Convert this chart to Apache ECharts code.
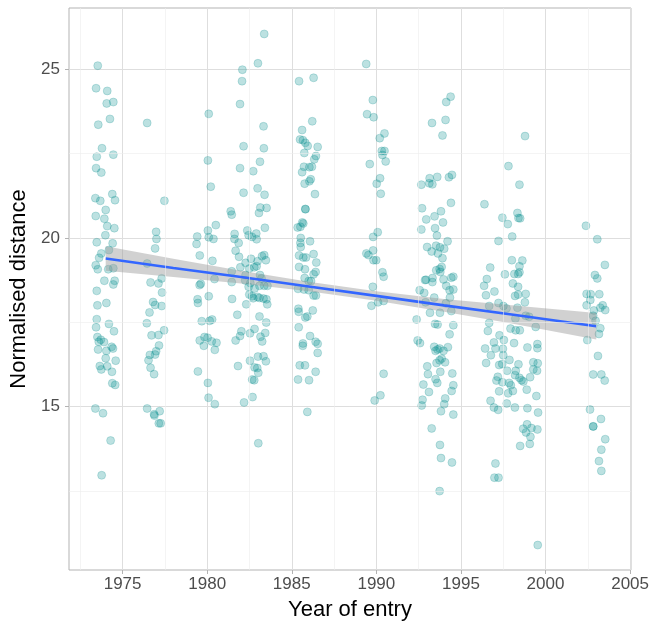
<!DOCTYPE html>
<html>
<head>
<meta charset="utf-8">
<script src="https://cdn.jsdelivr.net/npm/echarts@6/dist/echarts.min.js"></script>
<style>
  html, body { margin: 0; padding: 0; background: #fff; }
  #chart { width: 652px; height: 627px; }
</style>
</head>
<body>
<div id="chart"></div>
<script>
'use strict';

// jittered points, [year of entry, normalised distance], read per intake cohort
var cohort1974 = [
  [1973.53,25.11],[1973.43,24.44],[1974.09,24.36],[1974.06,23.99],[1974.45,24.03],[1974.25,23.53],
  [1973.56,23.36],[1973.78,22.66],[1973.47,22.41],[1974.45,22.47],[1973.43,22.07],[1973.74,21.94],
  [1974.39,21.30],[1973.39,21.18],[1973.68,21.10],[1974.55,21.12],[1974.00,20.83],[1973.41,20.65],
  [1973.92,20.57],[1974.09,20.35],[1974.51,20.29],[1973.98,20.08],[1973.47,19.87],[1974.41,19.84],
  [1974.19,19.64],[1973.74,19.54],[1973.61,19.41],[1973.41,19.19],[1973.53,19.07],[1974.15,19.07],
  [1974.45,19.10],[1973.92,18.73],[1974.53,18.73],[1974.45,18.62],[1973.47,18.43],[1973.51,18.00],
  [1974.04,18.07],[1973.47,17.59],[1974.19,17.45],[1973.43,17.35],[1974.49,17.23],[1973.51,17.06],
  [1973.71,16.98],[1973.59,16.92],[1973.90,16.91],[1974.35,16.77],[1974.43,16.72],[1973.55,16.69],
  [1974.04,16.65],[1974.00,16.43],[1974.59,16.36],[1973.65,16.20],[1974.09,16.19],[1973.74,16.10],
  [1974.37,16.03],[1974.39,15.69],[1974.56,15.64],[1973.39,14.94],[1973.84,14.80],[1974.29,13.99],
  [1973.76,12.96]
];
var cohort1977 = [
  [1976.45,23.41],[1977.47,21.10],[1976.98,20.18],[1977.00,19.97],[1976.92,19.69],[1976.45,19.24],
  [1976.65,18.68],[1977.12,18.65],[1977.31,18.80],[1977.33,18.38],[1976.80,18.10],[1976.92,18.01],
  [1977.31,17.98],[1976.59,17.79],[1976.43,17.47],[1976.71,17.11],[1977.12,17.12],[1977.45,17.26],
  [1977.15,16.81],[1976.98,16.64],[1976.92,16.54],[1976.61,16.53],[1976.53,16.37],[1976.65,16.15],
  [1976.86,15.96],[1976.45,14.94],[1976.86,14.77],[1977.19,14.86],[1976.88,14.73],[1977.14,14.50],
  [1977.25,14.50]
];
var cohort1980 = [
  [1980.09,23.68],[1980.04,22.30],[1980.21,21.52],[1980.51,20.38],[1980.04,20.22],[1979.41,20.04],
  [1980.09,20.02],[1980.37,19.97],[1979.37,19.82],[1979.56,19.48],[1980.31,19.32],[1980.43,18.78],
  [1979.55,18.60],[1979.62,18.64],[1980.09,18.27],[1979.43,18.18],[1979.45,18.07],[1979.68,17.53],
  [1980.15,17.54],[1980.29,17.58],[1979.84,17.06],[1980.02,17.04],[1979.56,16.96],[1980.27,16.93],
  [1980.55,16.89],[1979.80,16.80],[1980.45,16.68],[1979.45,16.04],[1980.04,15.70],[1980.08,15.26],
  [1980.45,15.07]
];
var cohort1983 = [
  [1983.37,26.05],[1983.00,25.18],[1982.08,24.99],[1982.06,24.65],[1981.94,23.97],[1983.33,23.31],
  [1982.15,22.72],[1983.35,22.66],[1983.12,22.26],[1981.94,22.07],[1982.72,21.98],[1982.15,21.34],
  [1982.98,21.47],[1983.39,21.28],[1981.39,20.79],[1981.45,20.69],[1983.14,20.90],[1983.51,20.89],
  [1983.06,20.74],[1983.41,20.30],[1981.62,20.12],[1982.37,20.22],[1982.90,20.13],[1981.61,19.97],
  [1982.45,20.08],[1982.65,20.03],[1982.92,19.96],[1981.86,19.85],[1981.68,19.62],[1981.88,19.44],
  [1983.24,19.46],[1983.37,19.49],[1983.47,19.34],[1982.98,19.31],[1982.59,19.38],[1982.27,19.26],
  [1982.49,19.09],[1981.96,19.13],[1982.78,19.13],[1982.92,19.16],[1981.45,19.01],[1982.27,18.90],
  [1983.12,18.90],[1981.45,18.69],[1982.25,18.74],[1982.55,18.66],[1983.21,18.80],[1982.45,18.55],
  [1982.80,18.50],[1983.09,18.58],[1983.37,18.58],[1983.56,18.58],[1982.49,18.32],[1982.65,18.27],
  [1983.09,18.22],[1983.50,18.18],[1981.47,18.19],[1982.31,18.03],[1982.72,18.21],[1982.98,18.25],
  [1983.33,18.20],[1983.55,18.03],[1981.78,17.72],[1983.09,17.67],[1983.49,17.49],[1982.02,17.23],
  [1982.80,17.30],[1982.53,17.17],[1983.43,17.18],[1981.94,17.09],[1981.68,16.96],[1983.15,17.07],
  [1983.25,16.93],[1983.00,16.48],[1983.33,16.49],[1983.47,16.34],[1982.53,16.36],[1981.82,16.20],
  [1982.80,16.16],[1982.96,16.14],[1983.02,16.00],[1982.66,15.80],[1982.78,15.78],[1982.18,15.12],
  [1982.68,15.28],[1983.02,13.91]
];
var cohort1986 = [
  [1985.43,24.65],[1986.29,24.75],[1986.21,23.46],[1985.61,23.20],[1985.49,22.92],[1985.66,22.90],
  [1985.80,22.82],[1985.94,22.73],[1986.53,22.70],[1985.74,22.52],[1986.43,22.43],[1986.33,22.33],
  [1985.72,22.11],[1986.04,22.10],[1986.19,22.11],[1985.61,21.95],[1986.12,21.74],[1986.04,21.68],
  [1985.76,21.61],[1986.37,21.30],[1985.80,20.86],[1985.81,20.85],[1985.62,20.46],[1985.68,20.43],
  [1985.51,20.33],[1985.35,20.31],[1985.53,20.00],[1985.51,19.85],[1986.08,19.90],[1985.53,19.73],
  [1985.43,19.48],[1985.68,19.42],[1985.84,19.42],[1986.29,19.52],[1985.43,19.14],[1986.45,19.27],
  [1985.78,19.07],[1986.41,18.99],[1986.29,18.92],[1985.76,18.81],[1986.00,18.72],[1986.14,18.72],
  [1985.37,18.49],[1985.72,18.47],[1986.00,18.45],[1986.29,18.29],[1986.43,18.29],[1985.39,17.90],
  [1985.41,17.81],[1986.24,17.85],[1985.92,17.67],[1985.80,17.64],[1985.41,17.35],[1986.08,17.09],
  [1985.66,16.87],[1985.65,16.80],[1986.41,16.92],[1986.53,16.86],[1986.53,16.59],[1985.47,16.22],
  [1985.78,16.22],[1986.41,16.03],[1985.37,15.80],[1986.02,15.78],[1985.92,14.84]
];
var cohort1990 = [
  [1989.40,25.16],[1989.79,24.09],[1989.45,23.67],[1989.84,23.58],[1990.20,22.96],[1990.48,23.10],
  [1990.32,22.58],[1990.48,22.58],[1990.36,22.46],[1990.55,22.27],[1989.61,22.19],[1990.22,21.77],
  [1990.02,21.61],[1990.26,21.31],[1990.08,20.17],[1989.81,20.03],[1989.41,19.54],[1989.53,19.49],
  [1989.81,19.63],[1989.83,19.34],[1989.99,19.34],[1990.36,18.98],[1990.43,18.85],[1989.79,18.55],
  [1989.71,17.99],[1990.10,18.09],[1990.43,18.13],[1990.43,15.97],[1990.24,15.33],[1989.90,15.18]
];
var cohort1994 = [
  [1994.39,24.19],[1994.13,24.03],[1993.29,23.41],[1994.09,23.50],[1993.91,23.04],[1993.15,21.77],
  [1993.60,21.81],[1994.47,21.87],[1994.29,21.80],[1992.66,21.58],[1993.13,21.62],[1993.31,21.59],
  [1994.41,21.04],[1992.70,20.88],[1993.82,20.79],[1993.44,20.64],[1992.95,20.55],[1993.94,20.46],
  [1993.47,20.29],[1992.66,20.25],[1993.58,20.07],[1994.21,19.90],[1993.00,19.73],[1993.53,19.77],
  [1993.76,19.72],[1994.01,19.68],[1993.27,19.60],[1993.64,19.54],[1993.91,19.40],[1993.54,19.04],
  [1993.74,19.08],[1993.86,19.14],[1993.78,18.99],[1992.94,18.76],[1992.88,18.75],[1993.32,18.81],
  [1993.31,18.69],[1993.97,18.77],[1994.43,18.82],[1994.55,18.85],[1994.13,18.58],[1992.56,18.45],
  [1992.83,18.37],[1994.33,18.45],[1994.55,18.47],[1993.42,18.23],[1994.35,18.23],[1992.91,18.09],
  [1993.17,17.78],[1993.76,17.78],[1994.43,17.83],[1994.11,18.06],[1992.38,17.58],[1993.47,17.45],
  [1993.62,17.43],[1994.55,17.41],[1994.33,17.14],[1992.44,16.96],[1992.58,16.88],[1993.42,16.77],
  [1993.50,16.65],[1993.62,16.69],[1993.74,16.72],[1993.97,16.65],[1994.23,16.76],[1993.86,16.42],
  [1994.06,16.31],[1993.56,16.29],[1993.74,16.37],[1993.01,16.19],[1993.05,15.96],[1993.78,16.03],
  [1994.49,15.98],[1993.50,15.81],[1993.60,15.70],[1992.78,15.65],[1994.55,15.63],[1994.45,15.46],
  [1993.11,15.43],[1992.73,15.20],[1992.68,15.03],[1994.07,15.24],[1994.01,15.07],[1993.82,14.86],
  [1994.55,14.76],[1993.27,14.35],[1993.76,13.86],[1993.82,13.47],[1994.47,13.34],[1993.74,12.49]
];
var cohort1998 = [
  [1998.79,23.02],[1997.81,22.13],[1998.46,21.58],[1996.39,21.00],[1997.45,20.60],[1998.34,20.74],
  [1998.50,20.58],[1998.40,20.59],[1997.77,20.41],[1998.03,20.04],[1997.22,19.91],[1998.01,19.34],
  [1998.63,19.33],[1998.46,19.16],[1996.73,19.12],[1997.60,18.92],[1998.16,18.93],[1998.38,18.93],
  [1998.46,18.98],[1996.53,18.78],[1996.37,18.58],[1998.07,18.65],[1998.38,18.55],[1996.98,18.41],
  [1996.48,18.30],[1998.20,18.28],[1998.38,18.32],[1998.83,18.34],[1998.78,18.09],[1997.22,18.07],
  [1996.67,17.98],[1997.51,17.98],[1997.69,17.91],[1998.34,17.93],[1998.22,17.61],[1998.83,17.69],
  [1999.03,17.66],[1999.42,17.36],[1996.67,17.48],[1997.93,17.31],[1998.24,17.26],[1998.48,17.26],
  [1996.59,17.24],[1997.28,17.11],[1997.54,16.97],[1996.95,16.90],[1998.14,16.88],[1998.93,16.75],
  [1999.52,16.85],[1996.43,16.72],[1997.04,16.72],[1997.48,16.71],[1999.52,16.73],[1996.77,16.52],
  [1997.50,16.52],[1996.49,16.29],[1997.26,16.23],[1997.44,16.26],[1997.87,16.38],[1998.40,16.25],
  [1999.28,16.31],[1999.54,16.28],[1997.73,16.06],[1998.24,16.06],[1999.28,16.10],[1999.50,16.06],
  [1997.18,15.88],[1998.20,15.93],[1998.46,15.85],[1998.58,15.78],[1999.09,15.87],[1997.10,15.77],
  [1997.45,15.72],[1997.85,15.70],[1997.95,15.63],[1998.69,15.74],[1997.26,15.45],[1997.79,15.39],
  [1998.07,15.46],[1998.89,15.50],[1999.46,15.31],[1996.75,15.17],[1997.71,15.09],[1996.95,14.97],
  [1997.20,14.90],[1998.19,14.97],[1998.93,14.95],[1999.56,14.82],[1998.68,14.34],[1998.91,14.47],
  [1999.17,14.36],[1999.52,14.32],[1998.85,14.23],[1999.11,14.10],[1998.50,13.83],[1999.07,13.89],
  [1997.04,13.31],[1996.98,12.89],[1997.22,12.89],[1999.54,10.89]
];
var cohort2003 = [
  [2002.39,20.36],[2003.06,19.96],[2003.51,19.20],[2002.92,18.90],[2003.06,18.80],[2002.43,18.34],
  [2002.67,18.33],[2003.18,18.33],[2002.65,18.16],[2002.43,18.00],[2003.38,18.00],[2003.24,17.93],
  [2003.53,17.86],[2002.86,17.85],[2002.82,17.69],[2002.96,17.54],[2003.24,17.32],[2003.16,17.15],
  [2002.47,16.97],[2003.10,16.50],[2002.82,15.95],[2003.30,15.95],[2003.50,15.77],[2002.63,14.91],
  [2003.28,14.63],[2002.82,14.41],[2002.82,14.41],[2003.53,14.03],[2003.30,13.72],[2003.16,13.38],
  [2003.30,13.09]
];

// linear fit and its confidence band
var fitYears = [1974, 1978, 1982, 1986, 1990, 1994, 1998, 2003];
var fitValues = [19.39, 19.11, 18.84, 18.56, 18.28, 18.00, 17.73, 17.38];
var bandLower = [19.03, 18.84, 18.65, 18.42, 18.14, 17.81, 17.46, 16.99];
var bandUpper = [19.75, 19.38, 19.03, 18.70, 18.42, 18.19, 18.00, 17.77];

// axes
var xTicks = [1975, 1980, 1985, 1990, 1995, 2000, 2005];
var xMinor = [1972.5, 1977.5, 1982.5, 1987.5, 1992.5, 1997.5, 2002.5];
var yTicks = [15, 20, 25];
var yMinor = [12.5, 17.5, 22.5];

var points = [].concat(cohort1974, cohort1977, cohort1980, cohort1983, cohort1986,
                       cohort1990, cohort1994, cohort1998, cohort2003);

var fitLine = fitYears.map(function (x, i) { return [x, fitValues[i]]; });
var bandData = fitYears.map(function (x, i) { return [x, bandLower[i], bandUpper[i]]; });

var minorLines = [];
xMinor.forEach(function (v) { minorLines.push({ xAxis: v }); });
yMinor.forEach(function (v) { minorLines.push({ yAxis: v }); });

var FONT = '"Liberation Sans", Arial, sans-serif';

var chart = echarts.init(document.getElementById('chart'), null, { renderer: 'canvas' });

var option = {
  animation: false,
  backgroundColor: '#ffffff',
  grid: {
    left: 69, right: 20, top: 8, bottom: 57,
    show: true, borderColor: '#b3b3b3', borderWidth: 1, backgroundColor: 'transparent'
  },
  xAxis: {
    type: 'value',
    min: 1971.83,
    max: 2005.05,
    name: 'Year of entry',
    nameLocation: 'middle',
    nameGap: 29,
    nameTextStyle: { fontFamily: FONT, fontSize: 22, color: '#000' },
    axisLine: { show: false },
    axisTick: { show: true, customValues: xTicks, length: 4, lineStyle: { color: '#b3b3b3' } },
    axisLabel: {
      customValues: xTicks, fontFamily: FONT, fontSize: 17, color: '#4d4d4d', margin: 6,
      formatter: function (v) { return String(v); }
    },
    splitLine: { show: true, lineStyle: { color: '#dedede', width: 1 } }
  },
  yAxis: {
    type: 'value',
    min: 10.15,
    max: 26.82,
    name: 'Normalised distance',
    nameLocation: 'middle',
    nameGap: 30,
    nameTextStyle: { fontFamily: FONT, fontSize: 22, color: '#000' },
    axisLine: { show: false },
    axisTick: { show: true, customValues: yTicks, length: 4, lineStyle: { color: '#b3b3b3' } },
    axisLabel: {
      customValues: yTicks, fontFamily: FONT, fontSize: 17, color: '#4d4d4d', margin: 9,
      formatter: function (v) { return String(v); }
    },
    splitLine: { show: true, lineStyle: { color: '#dedede', width: 1 } }
  },
  series: [
    {
      // minor grid
      type: 'line',
      data: [],
      silent: true,
      z: 0,
      markLine: {
        silent: true,
        symbol: 'none',
        label: { show: false },
        lineStyle: { color: '#ececec', width: 0.6, type: 'solid' },
        data: minorLines
      }
    },
    {
      type: 'scatter',
      data: points,
      symbolSize: 8,
      itemStyle: {
        color: 'rgba(0,139,139,0.33)',
        borderColor: 'rgba(0,139,139,0.45)',
        borderWidth: 0.6
      },
      z: 2
    },
    {
      type: 'custom',
      data: bandData,
      z: 3,
      silent: true,
      renderItem: function (params, api) {
        if (params.dataIndex !== 0) return null;
        var pts = [];
        var i;
        for (i = 0; i < bandData.length; i++) pts.push(api.coord([bandData[i][0], bandData[i][2]]));
        for (i = bandData.length - 1; i >= 0; i--) pts.push(api.coord([bandData[i][0], bandData[i][1]]));
        return {
          type: 'polygon',
          shape: { points: pts, smooth: 0 },
          style: { fill: 'rgba(153,153,153,0.45)', stroke: null }
        };
      }
    },
    {
      type: 'line',
      data: fitLine,
      showSymbol: false,
      symbol: 'none',
      z: 4,
      lineStyle: { color: '#3366ff', width: 2.6 }
    }
  ]
};

chart.setOption(option);
</script>
</body>
</html>
